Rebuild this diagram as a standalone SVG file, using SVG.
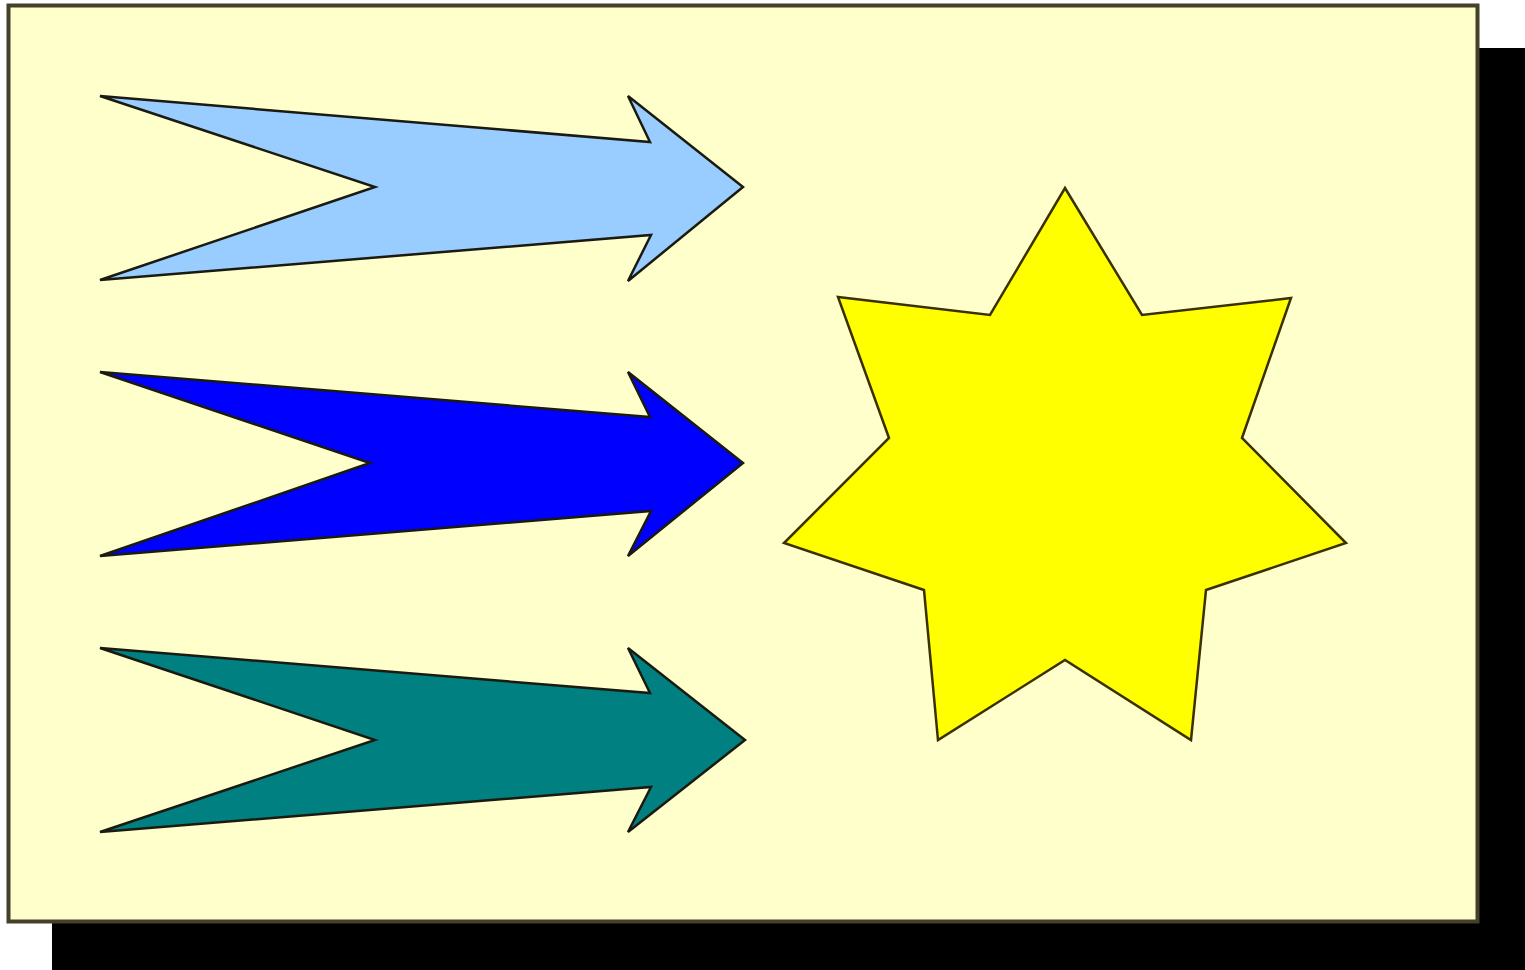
<svg xmlns="http://www.w3.org/2000/svg" width="1525" height="970" viewBox="0 0 1525 970">
  <style>
    .arrow { stroke: #1a1a10; stroke-width: 2.5; stroke-linejoin: miter; }
    .star { fill: #FFFF00; stroke: #3a3000; stroke-width: 2.5; stroke-linejoin: miter; }
  </style>
  <rect x="0" y="0" width="1525" height="970" fill="#FFFFFF"/>
  <g id="shadow">
    <rect x="52" y="48" width="1473" height="922" fill="#000000"/>
  </g>
  <g id="panel">
    <rect x="8.5" y="5.5" width="1469" height="916" fill="#FFFFCC" stroke="#45402A" stroke-width="4"/>
  </g>
  <g id="arrow1">
    <polygon class="arrow" fill="#99CCFF" points="100,96 650,142 628,96 743,187 628,281 651,235 100,280 375,187"/>
  </g>
  <g id="arrow2">
    <polygon class="arrow" fill="#0000FF" points="100,372 650,417 628,372 743,463 628,556 651,511 100,556 370,463"/>
  </g>
  <g id="arrow3">
    <polygon class="arrow" fill="#008080" points="100,648 650,693 628,648 745,740 628,832 651,787 100,832 375,740"/>
  </g>
  <g id="star">
    <polygon class="star" points="1065,188 1142,315 1291,298 1242,438 1346,543 1206,590 1191,740 1065,660 938,740 924,590 784,543 889,438 838,297 990,315"/>
  </g>
  <g id="connectors"></g>
</svg>
